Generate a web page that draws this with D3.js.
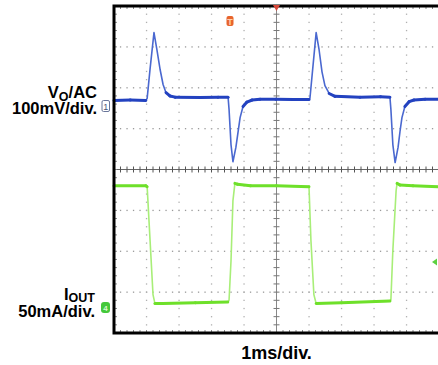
<!DOCTYPE html>
<html>
<head>
<meta charset="utf-8">
<script src="https://cdn.jsdelivr.net/npm/d3@7"></script>
<style>
    body { margin: 0; background: #fff; }
    .Scope__svg { display: block; font-family: "Liberation Sans", Arial, sans-serif; font-weight: bold; }
</style>
</head>
<body>
<div class="Scope"></div>
<script>
// horizontal: 1 ms/div, 10 div.  vertical: 8 div.
const timeDivs = d3.range(0, 11);
const vertDivs = d3.range(-4, 5);

// CH1  V_O, AC coupled, 100 mV/div  (time in ms, value in mV)
const voTime = [0, 0.5, 0.98, 1.02, 1.11, 1.23, 1.32, 1.42, 1.51, 1.6, 1.72, 1.88, 2.65, 3.2, 3.51,
    3.54, 3.6, 3.66, 3.75, 3.82, 3.88, 3.97, 4.09, 4.25, 4.49, 4.98, 5.5, 6.0,
    6.03, 6.12, 6.22, 6.31, 6.4, 6.49, 6.62, 6.8, 7.57, 8.2, 8.49,
    8.52, 8.58, 8.65, 8.74, 8.8, 8.86, 8.95, 9.08, 9.23, 9.57, 10];
const voMv = [-2, -1, -2, 3, 75, 164, 122, 73, 37, 17, 9, 6, 5, 6, 6,
    -24, -110, -152, -117, -78, -44, -17, -6, -1, 1, 1, 0, 0,
    4, 80, 164, 122, 68, 34, 15, 8, 6, 7, 6,
    -24, -110, -154, -117, -78, -44, -17, -5, -1, 1, 1];

// CH4  I_OUT, 50 mA/div
const ioutTime = [0, 0.98, 1.02, 1.11, 1.2, 1.26, 1.5, 2.5, 3.5, 3.54, 3.6, 3.66, 3.72, 3.8, 4.2, 5, 6.0,
    6.06, 6.15, 6.22, 7, 8.49, 8.52, 8.58, 8.68, 8.71, 8.8, 9.2, 10];
const ioutMa = [149, 149, 148, 82, 16, 5, 5, 6, 7, 9, 57, 131, 152, 151, 149, 149, 148,
    82, 16, 5, 6, 8, 10, 70, 143, 152, 150, 149, 148];

const ch1Offset = 1.71;   // ground marker position in div
const ch4Offset = -3.38;

const svg = d3.select(".Scope").append("svg").attr("class", "Scope__svg")
    .attr("width", 438).attr("height", 365);

const margin = {top: 6, left: 114},
    width = 325, height = 327;

let x = d3.scaleLinear().domain([0, 10]).range([margin.left, margin.left + width]);
let y = d3.scaleLinear().domain([-4, 4]).range([margin.top + height, margin.top]);

let yVo = (mv) => y(ch1Offset + mv / 100);
let yIout = (ma) => y(ch4Offset + ma / 50);

let grid = svg.append("g");
let minorX = d3.range(0, 50.5).map(d => d / 5);
let minorY = d3.range(-20, 20.5).map(d => d / 5);

// dotted graticule
vertDivs.filter(d => d !== 0 && Math.abs(d) !== 4).forEach(v => {
    grid.append("g").selectAll("rect").data(minorX).enter().append("rect")
        .attr("x", d => x(d) - 0.6).attr("y", y(v) - 0.6)
        .attr("width", 1.3).attr("height", 1.3).attr("fill", "#9a9a9a");
});
timeDivs.filter(d => d !== 5 && d !== 0).forEach(t => {
    grid.append("g").selectAll("rect").data(minorY).enter().append("rect")
        .attr("x", x(t) - 0.6).attr("y", d => y(d) - 0.6)
        .attr("width", 1.3).attr("height", 1.3).attr("fill", "#b0b0b0");
});

// center cross with minor ticks
grid.append("line").attr("x1", x(0)).attr("x2", x(10)).attr("y1", y(0)).attr("y2", y(0))
    .attr("stroke", "#666").attr("stroke-width", 1);
grid.append("line").attr("x1", x(5)).attr("x2", x(5)).attr("y1", y(-4)).attr("y2", y(4))
    .attr("stroke", "#888").attr("stroke-width", 1);
grid.append("g").selectAll("line").data(minorX).enter().append("line")
    .attr("x1", d => x(d)).attr("x2", d => x(d)).attr("y1", y(0) - 3).attr("y2", y(0) + 3)
    .attr("stroke", "#555");
grid.append("g").selectAll("line").data(minorY).enter().append("line")
    .attr("x1", x(5) - 3).attr("x2", x(5) + 3).attr("y1", d => y(d)).attr("y2", d => y(d))
    .attr("stroke", "#777");

// ticks inside frame
grid.append("g").selectAll("line").data(minorX).enter().append("line")
    .attr("x1", d => x(d)).attr("x2", d => x(d)).attr("y1", y(4)).attr("y2", y(4) + 3)
    .attr("stroke", "#888");
grid.append("g").selectAll("line").data(minorX).enter().append("line")
    .attr("x1", d => x(d)).attr("x2", d => x(d)).attr("y1", y(-4)).attr("y2", y(-4) - 3)
    .attr("stroke", "#888");
grid.append("g").selectAll("line").data(minorY).enter().append("line")
    .attr("x1", x(0)).attr("x2", x(0) + 3).attr("y1", d => y(d)).attr("y2", d => y(d))
    .attr("stroke", "#888");

// traces: fast edges thin & faint, slow parts thick
function drawTrace(times, values, yFn, thin, thick) {
    let pts = times.map((t, i) => [x(t), yFn(values[i])]);
    let line = d3.line();
    let g = svg.append("g").attr("fill", "none").attr("stroke-linejoin", "round").attr("stroke-linecap", "round");
    g.append("path").attr("d", line(pts)).attr("stroke", thin).attr("stroke-width", 1.6);
    d3.pairs(pts).filter(p => Math.abs(p[1][1] - p[0][1]) / Math.abs(p[1][0] - p[0][0]) < 1.2)
        .forEach(p => {
            g.append("path").attr("d", line(p)).attr("stroke", thick).attr("stroke-width", 3);
        });
}
drawTrace(voTime, voMv, yVo, "#4a68d0", "#2342c0");
drawTrace(ioutTime, ioutMa, yIout, "#a8ee78", "#6ee02a");

// frame
svg.append("path")
    .attr("d", `M${x(10) + 5},${y(4)} H${x(0)} V${y(-4)} H${x(10) + 5}`)
    .attr("fill", "none").attr("stroke", "#000").attr("stroke-width", 3);

// markers
svg.append("rect").attr("x", 226.5).attr("y", 16).attr("width", 7).attr("height", 10).attr("rx", 2)
    .attr("fill", "#e8642c");
svg.append("text").attr("x", 230).attr("y", 24.5).attr("text-anchor", "middle")
    .attr("font-size", 9).attr("fill", "#ffd0b0").text("T");
svg.append("path").attr("d", `M${x(5) - 3.5},${y(4) - 1} h7 l-3.5,6 z`).attr("fill", "#d8483a");

svg.append("rect").attr("x", 102).attr("y", 100.5).attr("width", 7.5).attr("height", 11).attr("rx", 1.5)
    .attr("fill", "#fff").attr("stroke", "#6a769a").attr("stroke-width", 1);
svg.append("text").attr("x", 105.8).attr("y", 109.5).attr("text-anchor", "middle")
    .attr("font-size", 9).attr("font-weight", "normal").attr("fill", "#4a5678").text("1");

svg.append("rect").attr("x", 101).attr("y", 302).attr("width", 9).attr("height", 11).attr("rx", 3)
    .attr("fill", "#44c83a");
svg.append("text").attr("x", 105.5).attr("y", 311).attr("text-anchor", "middle")
    .attr("font-size", 8).attr("fill", "#d8f8d0").text("4");
svg.append("path").attr("d", "M432,262 l5,-3.5 v7 z").attr("fill", "#5cd040");

// labels
let vo = svg.append("text").attr("x", 97).attr("y", 98).attr("text-anchor", "end").attr("font-size", 16.5);
vo.append("tspan").text("V");
vo.append("tspan").attr("font-size", 12.5).attr("dy", 2.5).text("O");
vo.append("tspan").attr("dy", -2.5).text("/AC");
svg.append("text").attr("x", 97).attr("y", 114).attr("text-anchor", "end").attr("font-size", 16.5)
    .text("100mV/div.");

let io = svg.append("text").attr("x", 95).attr("y", 299.5).attr("text-anchor", "end").attr("font-size", 16.5);
io.append("tspan").text("I");
io.append("tspan").attr("font-size", 12.5).attr("dy", 2.5).text("OUT");
svg.append("text").attr("x", 95).attr("y", 317).attr("text-anchor", "end").attr("font-size", 16.5)
    .text("50mA/div.");

svg.append("text").attr("x", 276.5).attr("y", 359).attr("text-anchor", "middle").attr("font-size", 18)
    .text("1ms/div.");
</script>
</body>
</html>
